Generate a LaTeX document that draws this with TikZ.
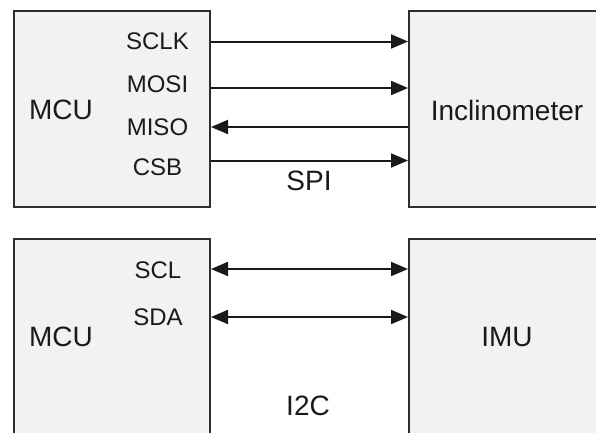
\documentclass[tikz,border=0pt]{standalone}
\usepackage{fontspec}
\setmainfont{Liberation Sans}
\usetikzlibrary{arrows.meta}
\definecolor{boxfill}{HTML}{F2F2F2}
\definecolor{ink}{HTML}{1A1A1A}
\definecolor{edge}{HTML}{2E2E2E}
\tikzset{
  block/.style={draw=edge, line width=2pt, fill=boxfill, rectangle,
    minimum width=196pt, minimum height=196pt, inner sep=0pt},
  bigtext/.style={text=ink, font=\fontsize{28}{31}\selectfont, inner sep=0pt},
  pin/.style={text=ink, font=\fontsize{24}{27}\selectfont, inner sep=0pt},
  wire/.style={draw=ink, line width=2pt},
  tip/.style={-{Triangle[length=17pt,width=14pt]}},
  tips/.style={{Triangle[length=17pt,width=14pt]}-{Triangle[length=17pt,width=14pt]}}
}
\begin{document}
\begin{tikzpicture}[x=1pt,y=-1pt]
\useasboundingbox (0,0) rectangle (596,432);
\fill[white] (0,0) rectangle (596,432);
\clip (0,0) rectangle (596,432);

% blocks
\node[block] (mcuA) at (112,109) {};
\node[block] (inc)  at (507,109) {};
\node[block] (mcuB) at (112,337) {};
\node[block] (imu)  at (507,337) {};

% block titles
\node[bigtext] (tMcuA) at (61,110) {MCU};
\node[bigtext] (tInc)  at (507,110) {Inclinometer};
\node[bigtext] (tMcuB) at (61,337) {MCU};
\node[bigtext] (tImu)  at (507,337) {IMU};

% pin names
\node[pin] (pSCLK) at (157.5,41) {SCLK};
\node[pin] (pMOSI) at (157.5,84.5) {MOSI};
\node[pin] (pMISO) at (157.5,127.5) {MISO};
\node[pin] (pCSB)  at (157.5,167.5) {CSB};
\node[pin] (pSCL)  at (158,270.5) {SCL};
\node[pin] (pSDA)  at (158,317.5) {SDA};

% bus names
\node[bigtext] (bSPI) at (309,181) {SPI};
\node[bigtext] (bI2C) at (308,406) {I2C};

% signal rows
\coordinate (rSCLK) at (0,41.5);
\coordinate (rMOSI) at (0,88);
\coordinate (rMISO) at (0,127);
\coordinate (rCSB)  at (0,160.5);
\coordinate (rSCL)  at (0,269);
\coordinate (rSDA)  at (0,317);

% SPI wires
\draw[wire,tip] (mcuA.east |- rSCLK) -- (inc.west |- rSCLK);
\draw[wire,tip] (mcuA.east |- rMOSI) -- (inc.west |- rMOSI);
\draw[wire,tip] (inc.west |- rMISO) -- (mcuA.east |- rMISO);
\draw[wire,tip] (mcuA.east |- rCSB) -- (inc.west |- rCSB);

% I2C wires
\draw[wire,tips] (mcuB.east |- rSCL) -- (imu.west |- rSCL);
\draw[wire,tips] (mcuB.east |- rSDA) -- (imu.west |- rSDA);
\end{tikzpicture}
\end{document}
